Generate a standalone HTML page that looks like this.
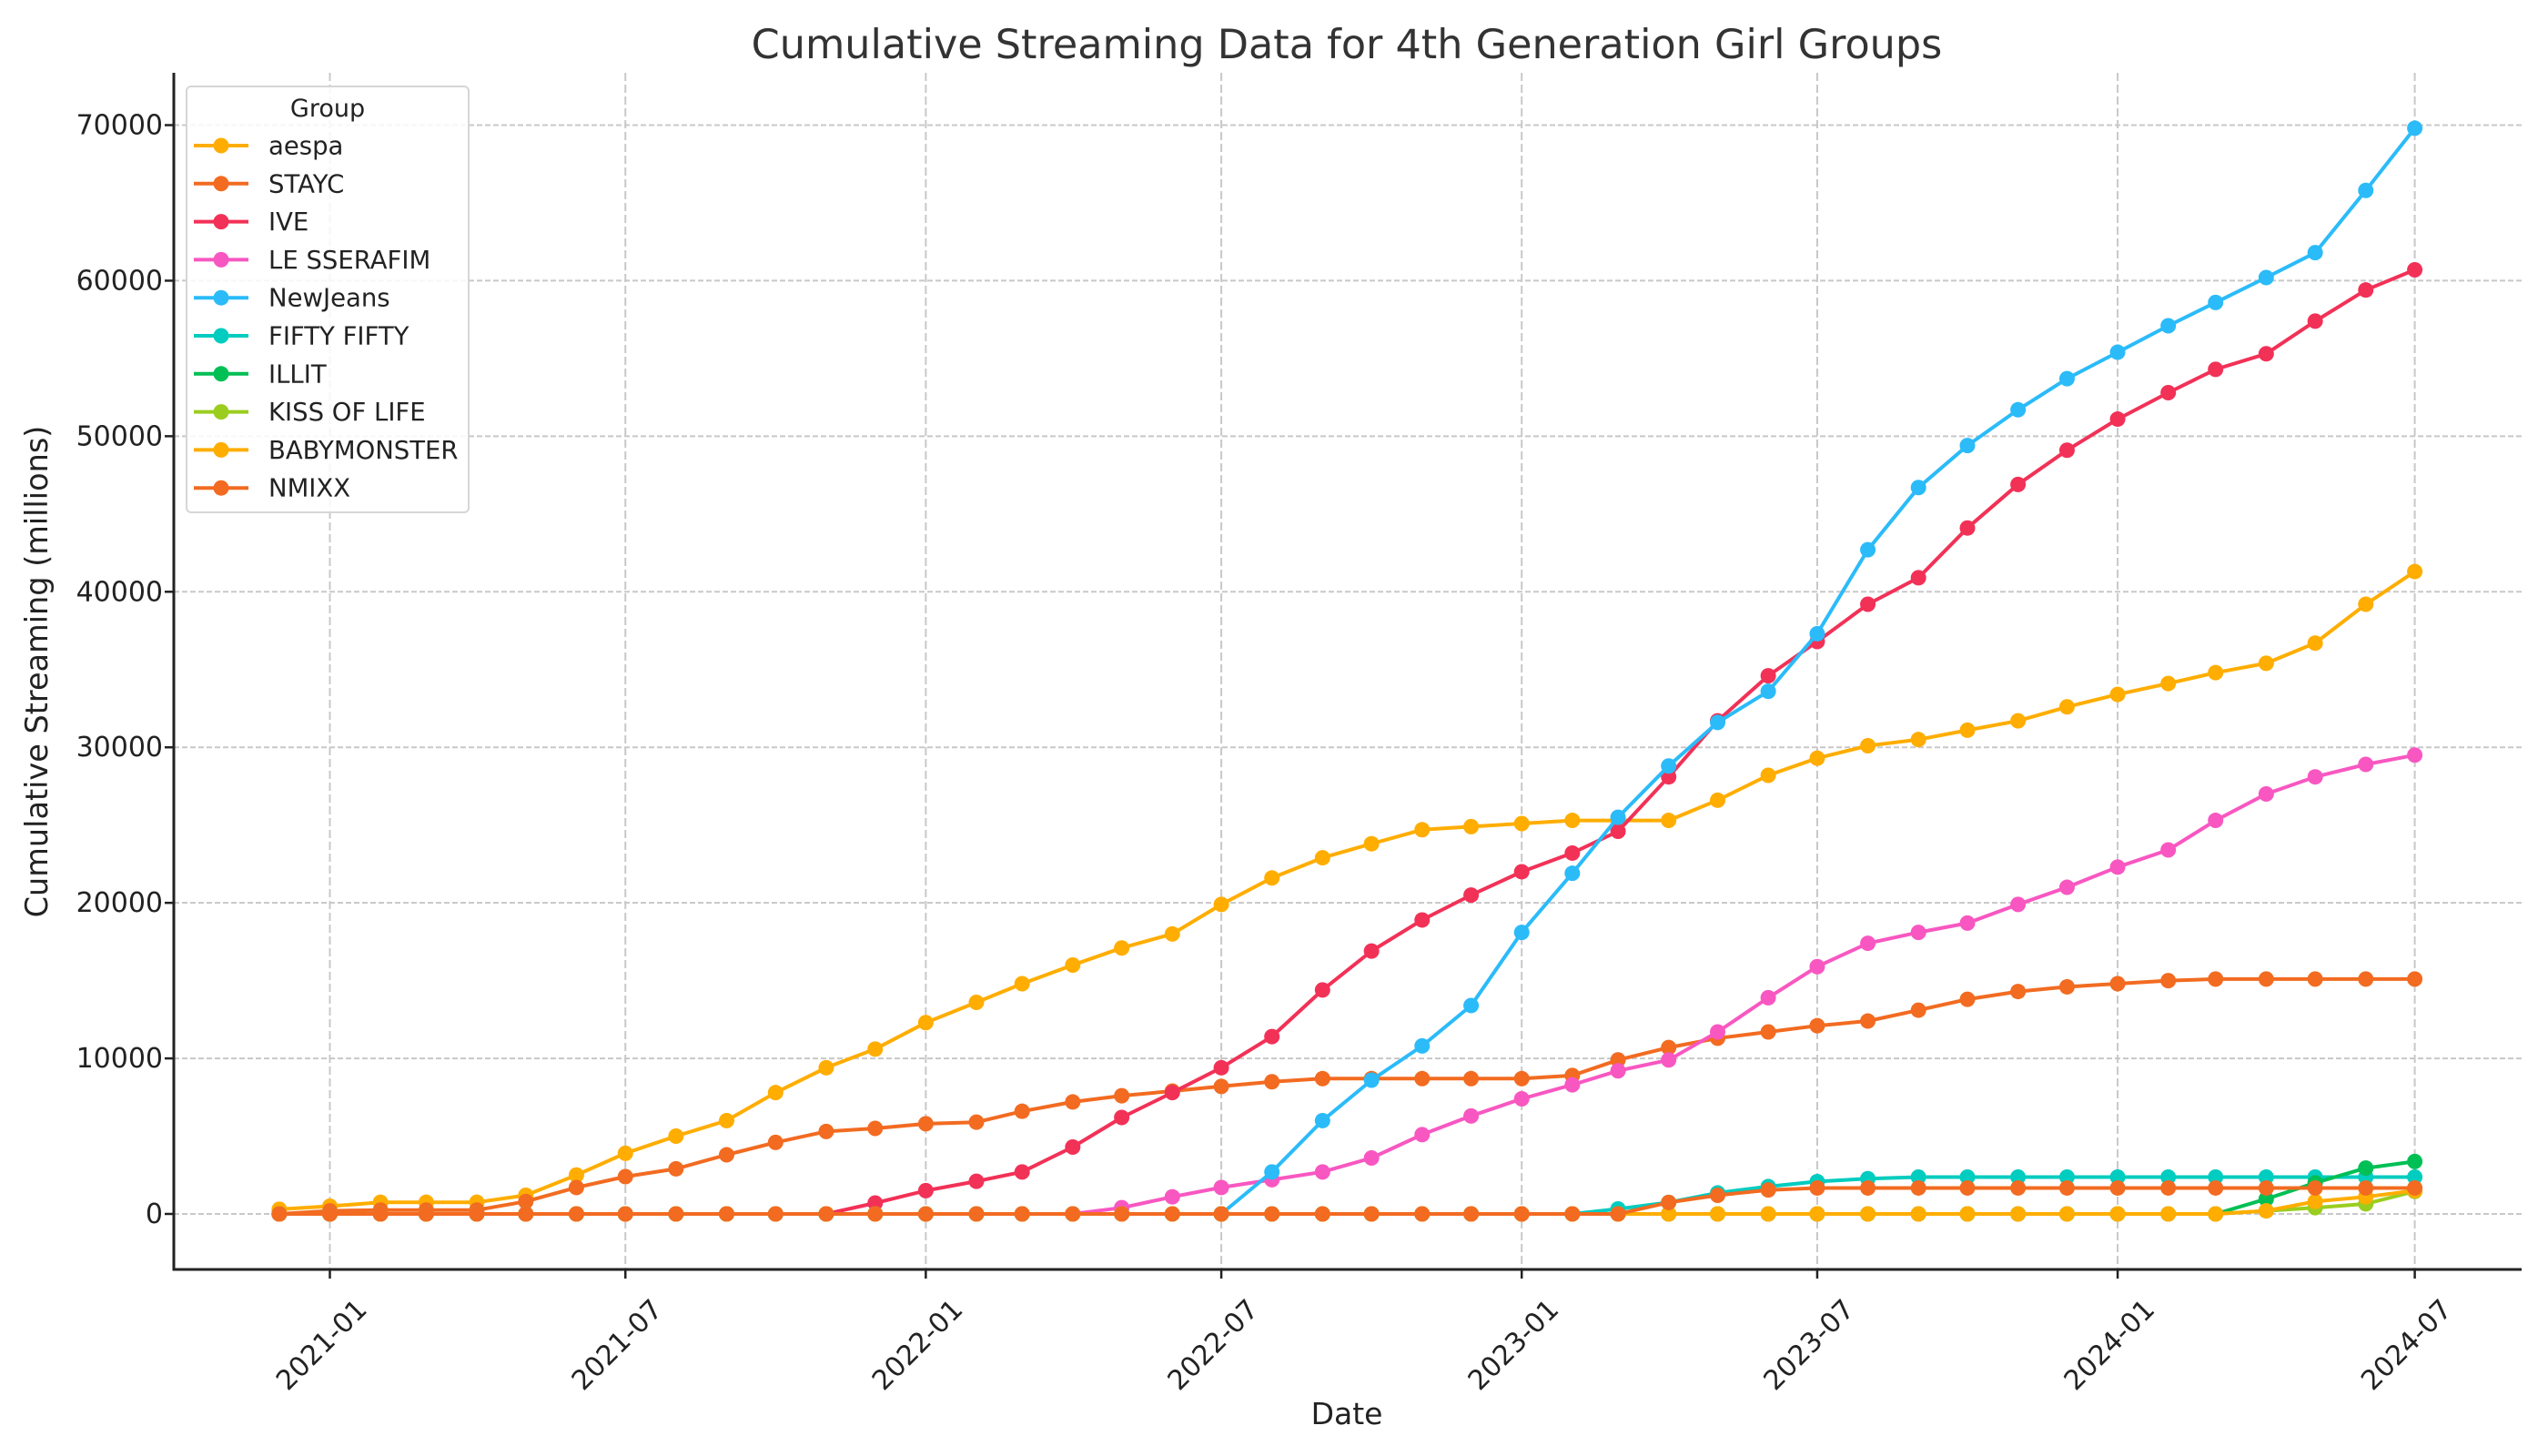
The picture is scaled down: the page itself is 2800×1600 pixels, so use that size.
<!DOCTYPE html>
<html><head><meta charset="utf-8"><style>
html,body{margin:0;padding:0;background:#fff;}
svg{display:block;font-family:"DejaVu Sans","Liberation Sans",sans-serif;}
</style></head><body>
<svg id="chart" width="2800" height="1600" viewBox="0 0 2800 1600" xmlns="http://www.w3.org/2000/svg">
<rect width="2800" height="1600" fill="#fff"/>
<text x="1480" y="64" text-anchor="middle" font-size="44.5" fill="#333">Cumulative Streaming Data for 4th Generation Girl Groups</text>
<g id="grid"></g><g id="series"></g><g id="axes"></g><g id="legend"></g>
<text x="1480" y="1565" text-anchor="middle" font-size="33" fill="#222">Date</text>
<text transform="translate(52,738) rotate(-90)" text-anchor="middle" font-size="33.5" fill="#222">Cumulative Streaming (millions)</text>
</svg>
<script>
const startYear = 2020, startMonth = 11; // 2020-12, monthly, 44 points
const groups = ["aespa","STAYC","IVE","LE SSERAFIM","NewJeans","FIFTY FIFTY","ILLIT","KISS OF LIFE","BABYMONSTER","NMIXX"];
const colors = ["#FFAD00","#F26B21","#F23157","#F857C1","#2BBBF9","#00CCBF","#00BF55","#9ACD1E","#FFAD00","#F26B21"];
const aespa = [300,500,750,750,750,1200,2500,3900,5000,6000,7800,9400,10600,12300,13600,14800,16000,17100,18000,19900,21600,22900,23800,24700,24900,25100,25300,25300,25300,26600,28200,29300,30100,30500,31100,31700,32600,33400,34100,34800,35400,36700,39200,41300];
const stayc = [0,200,250,250,250,800,1700,2400,2900,3800,4600,5300,5500,5800,5900,6600,7200,7600,7900,8200,8500,8700,8700,8700,8700,8700,8900,9900,10700,11300,11700,12100,12400,13100,13800,14300,14600,14800,15000,15100,15100,15100,15100,15100];
const ive = [0,0,0,0,0,0,0,0,0,0,0,0,700,1500,2100,2700,4300,6200,7800,9400,11400,14400,16900,18900,20500,22000,23200,24600,28100,31700,34600,36800,39200,40900,44100,46900,49100,51100,52800,54300,55300,57400,59400,60700];
const lesserafim = [0,0,0,0,0,0,0,0,0,0,0,0,0,0,0,0,0,400,1100,1700,2200,2700,3600,5100,6300,7400,8300,9200,9900,11700,13900,15900,17400,18100,18700,19900,21000,22300,23400,25300,27000,28100,28900,29500];
const newjeans = [0,0,0,0,0,0,0,0,0,0,0,0,0,0,0,0,0,0,0,0,2700,6000,8600,10800,13400,18100,21900,25500,28800,31600,33600,37300,42700,46700,49400,51700,53700,55400,57100,58600,60200,61800,65800,69800];
const fiftyfifty = [0,0,0,0,0,0,0,0,0,0,0,0,0,0,0,0,0,0,0,0,0,0,0,0,0,0,0,320,740,1350,1760,2080,2270,2370,2370,2370,2370,2370,2370,2370,2370,2370,2370,2370];
const illit = [0,0,0,0,0,0,0,0,0,0,0,0,0,0,0,0,0,0,0,0,0,0,0,0,0,0,0,0,0,0,0,0,0,0,0,0,0,0,0,0,960,2000,2950,3370];
const kissoflife = [0,0,0,0,0,0,0,0,0,0,0,0,0,0,0,0,0,0,0,0,0,0,0,0,0,0,0,0,0,0,0,0,0,0,0,0,0,0,0,0,200,400,650,1450];
const babymonster = [0,0,0,0,0,0,0,0,0,0,0,0,0,0,0,0,0,0,0,0,0,0,0,0,0,0,0,0,0,0,0,0,0,0,0,0,0,0,0,0,200,800,1100,1500];
const nmixx = [0,0,0,0,0,0,0,0,0,0,0,0,0,0,0,0,0,0,0,0,0,0,0,0,0,0,0,0,740,1200,1540,1670,1670,1670,1670,1670,1670,1670,1670,1670,1670,1670,1670,1670];
const yTicks = [0,10000,20000,30000,40000,50000,60000,70000];
const xTickLabels = ["2021-01","2021-07","2022-01","2022-07","2023-01","2023-07","2024-01","2024-07"];

const seriesData = [aespa,stayc,ive,lesserafim,newjeans,fiftyfifty,illit,kissoflife,babymonster,nmixx];
const NS = "http://www.w3.org/2000/svg";
const L = 191, R = 2771, T = 80, B = 1395;
const d0 = Date.UTC(2021,0,1), d1 = Date.UTC(2024,6,1);
const x0 = 362.5, x1 = 2653.6;
function xScale(ms){ return x0 + (ms - d0) / (d1 - d0) * (x1 - x0); }
const yZero = 1334, y70 = 137.5;
function yScale(v){ return yZero - v / 70000 * (yZero - y70); }
function monthMs(i){ return Date.UTC(startYear, startMonth + i, 1); }
function mk(tag, attrs, parent){ const e = document.createElementNS(NS, tag); for (const k in attrs) e.setAttribute(k, attrs[k]); parent.appendChild(e); return e; }

const grid = document.getElementById('grid'), axes = document.getElementById('axes');
yTicks.forEach(v => {
  const y = yScale(v);
  const g = mk('line', {x1:L, x2:R, y1:y, y2:y, stroke:'#c8c8c8', 'stroke-width':2, 'stroke-dasharray':'6 3'}, grid);
  
  
  mk('line', {x1:L-10, x2:L, y1:y, y2:y, stroke:'#222', 'stroke-width':2.5}, axes);
  const t = mk('text', {x:179, y:y+10, 'text-anchor':'end', 'font-size':30, fill:'#222'}, axes);
  t.textContent = v;
  
  
});
xTickLabels.forEach(lbl => {
  const [yy, mm] = lbl.split('-').map(Number);
  const x = xScale(Date.UTC(yy, mm-1, 1));
  const g = mk('line', {x1:x, x2:x, y1:T, y2:B, stroke:'#c8c8c8', 'stroke-width':2, 'stroke-dasharray':'9 4'}, grid);
  
  
  mk('line', {x1:x, x2:x, y1:B, y2:B+10, stroke:'#222', 'stroke-width':2.5}, axes);
  const t = mk('text', {x:0, y:0, 'text-anchor':'middle', 'font-size':30, fill:'#222', transform:`translate(${x-2},${1485}) rotate(-45)`}, axes);
  t.textContent = lbl;
  
  
});
const sp1 = mk('line', {x1:L, x2:L, y1:T, y2:B+1.5, stroke:'#222', 'stroke-width':3}, axes);


const sp2 = mk('line', {x1:L-1.5, x2:R, y1:B, y2:B, stroke:'#222', 'stroke-width':3}, axes);



const sg = document.getElementById('series');
seriesData.forEach((arr, si) => {
  const g = mk('g', {}, sg);
  
  
  const pts = arr.map((v,i) => xScale(monthMs(i)).toFixed(1) + ',' + yScale(v).toFixed(1)).join(' ');
  mk('polyline', {points:pts, fill:'none', stroke:colors[si], 'stroke-width':4, 'stroke-linejoin':'round'}, g);
  arr.forEach((v,i) => {
    const c = mk('circle', {cx:xScale(monthMs(i)), cy:yScale(v), r:8.5, fill:colors[si]}, g);
    
    
  });
});

const lg = document.getElementById('legend');


mk('rect', {x:205, y:95, width:310, height:468, rx:5, fill:'#fff', 'fill-opacity':0.85, stroke:'#d6d6d6', 'stroke-width':2}, lg);
const lt = mk('text', {x:360, y:128, 'text-anchor':'middle', 'font-size':27, fill:'#222'}, lg);
lt.textContent = 'Group';


groups.forEach((name, i) => {
  const y = 160 + i * 41.8;
  const g = mk('g', {}, lg);
  
  
  mk('line', {x1:213, x2:273, y1:y, y2:y, stroke:colors[i], 'stroke-width':4}, g);
  mk('circle', {cx:243, cy:y, r:8.5, fill:colors[i]}, g);
  const t = mk('text', {x:295, y:y+9.5, 'font-size':27.5, fill:'#222'}, g);
  t.textContent = name;
});
</script>
</body></html>
